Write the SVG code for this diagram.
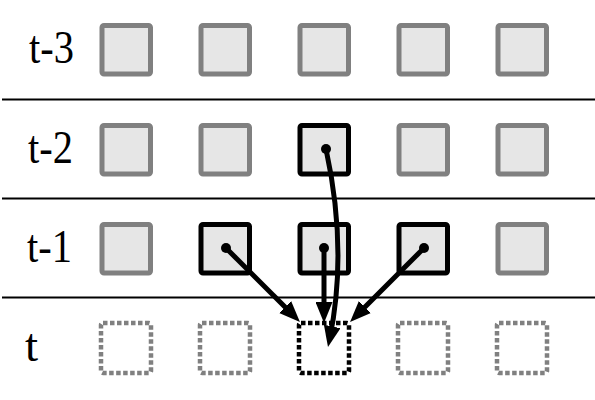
<svg xmlns="http://www.w3.org/2000/svg" width="595" height="400" viewBox="0 0 595 400">
<style>
.lbl{font-family:"Liberation Serif","Times New Roman",serif;font-size:47px;fill:#000}
.g{fill:#e6e6e6;stroke:#808080;stroke-width:5}
.k{fill:#e6e6e6;stroke:#000;stroke-width:5}
.dg{fill:none;stroke:#808080;stroke-width:4.5;stroke-dasharray:4.5 2.5}
.dk{fill:none;stroke:#000;stroke-width:4.5;stroke-dasharray:4.5 2.5}
.sep{stroke:#000;stroke-width:2.2}
.arr{fill:none;stroke:#000;stroke-width:5;marker-end:url(#ah)}
</style>
<defs>
<marker id="ah" markerUnits="userSpaceOnUse" markerWidth="21" markerHeight="17" refX="13" refY="8.5" orient="auto">
<path d="M0,0 L21,8.5 L0,17 z" fill="#000"/>
</marker>
</defs>
<rect width="595" height="400" fill="#fff"/>
<g id="separators">
<line class="sep" x1="2" y1="99.5" x2="595" y2="99.5"/>
<line class="sep" x1="2" y1="198.5" x2="595" y2="198.5"/>
<line class="sep" x1="2" y1="297.5" x2="595" y2="297.5"/>
</g>
<g id="labels">
<text class="lbl" x="29" y="63" textLength="45" lengthAdjust="spacingAndGlyphs">t-3</text>
<text class="lbl" x="28" y="163" textLength="45" lengthAdjust="spacingAndGlyphs">t-2</text>
<text class="lbl" x="27" y="262" textLength="45" lengthAdjust="spacingAndGlyphs">t-1</text>
<text class="lbl" x="25" y="361">t</text>
</g>
<g id="row-t3">
<rect id="n-3-1" class="g" x="102" y="25.5" width="48.5" height="48.5" rx="2"/>
<rect id="n-3-2" class="g" x="201" y="25.5" width="48.5" height="48.5" rx="2"/>
<rect id="n-3-3" class="g" x="300" y="25.5" width="48.5" height="48.5" rx="2"/>
<rect id="n-3-4" class="g" x="399" y="25.5" width="48.5" height="48.5" rx="2"/>
<rect id="n-3-5" class="g" x="498" y="25.5" width="48.5" height="48.5" rx="2"/>
</g>
<g id="row-t2">
<rect id="n-2-1" class="g" x="102" y="125.5" width="48.5" height="48.5" rx="2"/>
<rect id="n-2-2" class="g" x="201" y="125.5" width="48.5" height="48.5" rx="2"/>
<rect id="n-2-3" class="k" x="300" y="125.5" width="48.5" height="48.5" rx="2"/>
<rect id="n-2-4" class="g" x="399" y="125.5" width="48.5" height="48.5" rx="2"/>
<rect id="n-2-5" class="g" x="498" y="125.5" width="48.5" height="48.5" rx="2"/>
</g>
<g id="row-t1">
<rect id="n-1-1" class="g" x="102" y="224.5" width="48.5" height="48.5" rx="2"/>
<rect id="n-1-2" class="k" x="201" y="224.5" width="48.5" height="48.5" rx="2"/>
<rect id="n-1-3" class="k" x="300" y="224.5" width="48.5" height="48.5" rx="2"/>
<rect id="n-1-4" class="k" x="399" y="224.5" width="48.5" height="48.5" rx="2"/>
<rect id="n-1-5" class="g" x="498" y="224.5" width="48.5" height="48.5" rx="2"/>
</g>
<g id="row-t">
<rect id="n-0-1" class="dg" x="101" y="323" width="50" height="50" rx="2"/>
<rect id="n-0-2" class="dg" x="200" y="323" width="50" height="50" rx="2"/>
<rect id="n-0-3" class="dk" x="299" y="323" width="50" height="50" rx="2"/>
<rect id="n-0-4" class="dg" x="398" y="323" width="50" height="50" rx="2"/>
<rect id="n-0-5" class="dg" x="497" y="323" width="50" height="50" rx="2"/>
</g>
<g id="connectors">
<path class="arr" d="M226,248 L294.3,316.3"/>
<path class="arr" d="M424,248 L355.7,316.3"/>
<path class="arr" d="M324,248 L324,315"/>
<path class="arr" d="M326,149 Q348,250 329.6,339.2"/>
<circle cx="226" cy="248" r="5"/>
<circle cx="324" cy="248" r="5"/>
<circle cx="424" cy="248" r="5"/>
<circle cx="326" cy="149" r="5"/>
</g>
</svg>
